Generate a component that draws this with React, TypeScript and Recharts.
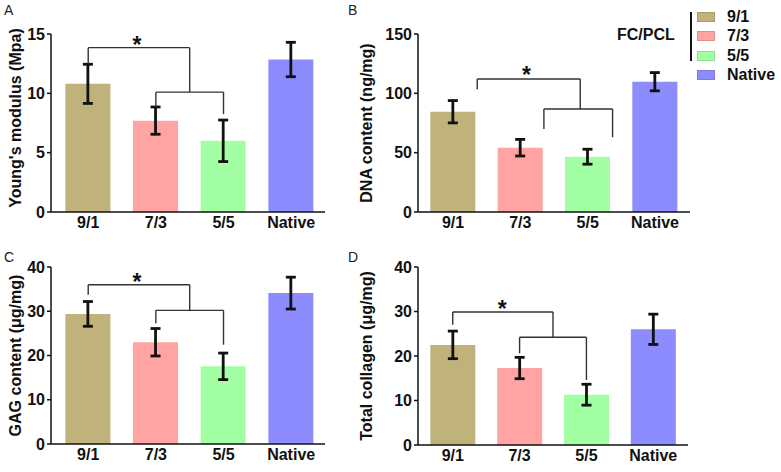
import React from 'react';
import { ComposedChart, Bar, Cell, ErrorBar, XAxis, YAxis, ReferenceLine, ReferenceDot } from 'recharts';

const FONT = "'Liberation Sans', Arial, sans-serif";

const groups = ['9/1', '7/3', '5/5', 'Native'];
const barColors = ['#BFB27A', '#FFA3A3', '#A3FFA3', '#8C8CFF'];

// means and SD
const modulusMean = [10.8, 7.7, 6.0, 12.85];
const modulusErr = [1.65, 1.15, 1.75, 1.45];
const dnaMean = [84.5, 54.2, 46.6, 109.8];
const dnaErr = [9.4, 7.0, 6.3, 7.7];
const gagMean = [29.4, 23.0, 17.55, 34.1];
const gagErr = [2.8, 3.1, 3.0, 3.6];
const collagenMean = [22.5, 17.3, 11.3, 26.0];
const collagenErr = [3.1, 2.4, 2.35, 3.4];

const modulusTicks = [0, 5, 10, 15];
const dnaTicks = [0, 50, 100, 150];
const gagTicks = [0, 10, 20, 30, 40];
const collagenTicks = [0, 10, 20, 30, 40];

// significance brackets in data units: horizontal bar at y, legs down to end1 / end2
const modulusBrackets = [
  { x1: 1, x2: 2.5, y: 13.85, end1: 12.5, end2: 10.1 },
  { x1: 2, x2: 3, y: 10.1, end1: 8.87, end2: 8.25 },
];
const modulusStar = { x: 1.72, y: 14.1 };
const dnaBrackets = [
  { x1: 1.36, x2: 2.89, y: 112.1, end1: 103.4, end2: 86.8 },
  { x1: 2.35, x2: 3.37, y: 86.8, end1: 70, end2: 63 },
];
const dnaStar = { x: 2.09, y: 115.3 };
const gagBrackets = [
  { x1: 1, x2: 2.5, y: 36.0, end1: 33.75, end2: 30.2 },
  { x1: 2, x2: 3, y: 30.2, end1: 27.3, end2: 22.45 },
];
const gagStar = { x: 1.72, y: 36.7 };
const collagenBrackets = [
  { x1: 1, x2: 2.5, y: 29.9, end1: 27.0, end2: 24.2 },
  { x1: 2, x2: 3, y: 24.2, end1: 20.6, end2: 14.6 },
];
const collagenStar = { x: 1.74, y: 30.6 };

type Bracket = { x1: number; x2: number; y: number; end1: number; end2: number };

interface PanelProps {
  left: number;
  top: number;
  width: number;
  height: number;
  margin: { top: number; right: number; bottom: number; left: number };
  yWidth: number;
  xDomain: [number, number];
  means: number[];
  errs: number[];
  ticks: number[];
  title: string;
  titleShift?: number;
  brackets: Bracket[];
  star: { x: number; y: number };
}

const tickStyle = { fill: '#111', fontSize: 16, fontWeight: 'bold', fontFamily: FONT };

const Panel: React.FC<PanelProps> = ({ left, top, width, height, margin, yWidth, xDomain, means, errs, ticks, title, titleShift = 0, brackets, star }) => {
  const data = means.map((v, i) => ({ x: i + 1, value: v, err: errs[i] }));
  const plotH = height - margin.top - margin.bottom - 24;

  const renderTitle = (p: any) => {
    const vb = p && p.viewBox ? p.viewBox : { x: margin.left, y: margin.top, height: plotH };
    const cx = vb.x + 15;
    const cy = vb.y + vb.height / 2 + titleShift;
    return (
      <text
        x={cx}
        y={cy}
        transform={`rotate(-90 ${cx} ${cy})`}
        textAnchor="middle"
        dominantBaseline="central"
        fill="#111"
        fontSize={16}
        fontWeight="bold"
        fontFamily={FONT}
      >
        {title}
      </text>
    );
  };

  const segs: { a: { x: number; y: number }; b: { x: number; y: number } }[] = [];
  brackets.forEach((br) => {
    segs.push({ a: { x: br.x1, y: br.y }, b: { x: br.x2, y: br.y } });
    segs.push({ a: { x: br.x1, y: br.y }, b: { x: br.x1, y: br.end1 } });
    segs.push({ a: { x: br.x2, y: br.y }, b: { x: br.x2, y: br.end2 } });
  });

  return (
    <div style={{ position: 'absolute', left, top, width, height }}>
      <ComposedChart width={width} height={height} data={data} margin={margin}>
        <XAxis
          type="number"
          dataKey="x"
          domain={xDomain}
          ticks={[1, 2, 3, 4]}
          tickFormatter={(v) => groups[v - 1]}
          tickLine={false}
          tickSize={3}
          tickMargin={2}
          height={24}
          axisLine={{ stroke: '#111', strokeWidth: 1.5 }}
          tick={tickStyle}
          allowDataOverflow
        />
        <YAxis
          type="number"
          domain={[ticks[0], ticks[ticks.length - 1]]}
          ticks={ticks}
          width={yWidth}
          tickSize={4}
          tickMargin={2}
          axisLine={{ stroke: '#111', strokeWidth: 1.5 }}
          tickLine={{ stroke: '#111', strokeWidth: 1.5 }}
          tick={tickStyle}
          label={renderTitle}
        />
        <Bar dataKey="value" barSize={45} isAnimationActive={false}>
          {data.map((d, i) => (
            <Cell key={d.x} fill={barColors[i]} />
          ))}
          <ErrorBar dataKey="err" direction="y" width={5} stroke="#111" strokeWidth={2.8} />
        </Bar>
        {segs.map((s, i) => (
          <ReferenceLine key={i} segment={[s.a, s.b]} stroke="#333" strokeWidth={1.4} ifOverflow="visible" />
        ))}
        <ReferenceDot
          x={star.x}
          y={star.y}
          r={0}
          stroke="none"
          fill="none"
          label={{ value: '*', position: 'center', fill: '#111', fontSize: 23, fontWeight: 'bold', fontFamily: FONT }}
        />
      </ComposedChart>
    </div>
  );
};

const letterStyle: React.CSSProperties = { position: 'absolute', fontSize: 14, fontFamily: FONT, color: '#222', lineHeight: '14px' };

const Legend: React.FC = () => (
  <div style={{ position: 'absolute', left: 0, top: 0, fontFamily: FONT }}>
    <div style={{ position: 'absolute', left: 617, top: 26, fontSize: 16, fontWeight: 'bold', color: '#111', whiteSpace: 'nowrap' }}>FC/PCL</div>
    <div style={{ position: 'absolute', left: 689.5, top: 11.5, width: 2.5, height: 49, background: '#111' }} />
    {groups.map((g, i) => (
      <div key={g} style={{ position: 'absolute', left: 697, top: 11.5 + i * 19.5, height: 10, whiteSpace: 'nowrap' }}>
        <div style={{ position: 'absolute', left: 0, top: 0, width: 18, height: 10, background: barColors[i], boxShadow: 'inset 0 0 0 1px rgba(0,0,0,0.12)' }} />
        <div style={{ position: 'absolute', left: 30, top: -4, fontSize: 16, fontWeight: 'bold', color: '#111', lineHeight: '18px' }}>{g}</div>
      </div>
    ))}
  </div>
);

export default function App() {
  return (
    <div style={{ position: 'absolute', left: 0, top: 0, width: 781, height: 472, background: '#fff', overflow: 'hidden' }}>
      <Panel
        left={0}
        top={0}
        width={340}
        height={236}
        margin={{ top: 34, right: 15, bottom: 0, left: 0 }}
        yWidth={51}
        xDomain={[0.45, 4.5]}
        means={modulusMean}
        errs={modulusErr}
        ticks={modulusTicks}
        title="Young's modulus (Mpa)"
        titleShift={-5}
        brackets={modulusBrackets}
        star={modulusStar}
      />
      <Panel
        left={351}
        top={0}
        width={430}
        height={236}
        margin={{ top: 34, right: 91, bottom: 0, left: 0 }}
        yWidth={67}
        xDomain={[0.48, 4.52]}
        means={dnaMean}
        errs={dnaErr}
        ticks={dnaTicks}
        title="DNA content  (ng/mg)"
        brackets={dnaBrackets}
        star={dnaStar}
      />
      <Panel
        left={0}
        top={230}
        width={340}
        height={238}
        margin={{ top: 37, right: 15, bottom: 0, left: 0 }}
        yWidth={51}
        xDomain={[0.45, 4.5]}
        means={gagMean}
        errs={gagErr}
        ticks={gagTicks}
        title="GAG content (μg/mg)"
        brackets={gagBrackets}
        star={gagStar}
      />
      <Panel
        left={351}
        top={230}
        width={430}
        height={239}
        margin={{ top: 37, right: 93, bottom: 0, left: 0 }}
        yWidth={67}
        xDomain={[0.48, 4.52]}
        means={collagenMean}
        errs={collagenErr}
        ticks={collagenTicks}
        title="Total collagen (μg/mg)"
        brackets={collagenBrackets}
        star={collagenStar}
      />
      <div style={{ ...letterStyle, left: 4, top: 3 }}>A</div>
      <div style={{ ...letterStyle, left: 348, top: 3 }}>B</div>
      <div style={{ ...letterStyle, left: 4, top: 250 }}>C</div>
      <div style={{ ...letterStyle, left: 348, top: 250 }}>D</div>
      <Legend />
    </div>
  );
}
